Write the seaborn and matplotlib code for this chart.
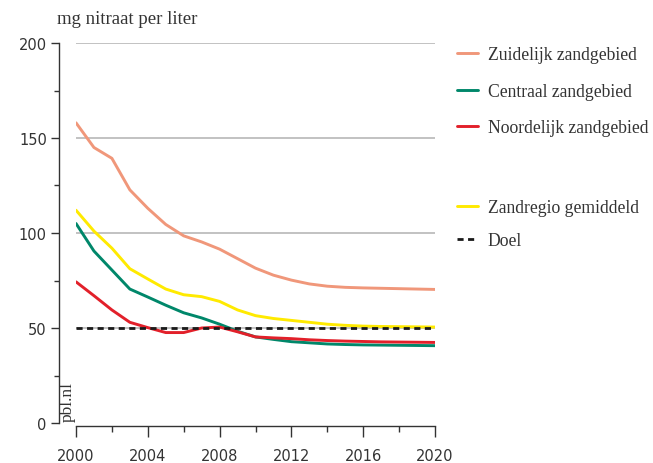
import matplotlib
matplotlib.use("Agg")
import matplotlib.pyplot as plt
import seaborn as sns
import pandas as pd
import numpy as np

years = list(range(2000, 2021))
zuidelijk = [158, 145, 139.3, 122.7, 113, 104.5, 98.5, 95.3, 91.5, 86.5, 81.5,
             77.8, 75.2, 73.2, 72.0, 71.4, 71.1, 70.9, 70.7, 70.5, 70.3]
centraal = [105, 90.5, 80.5, 70.5, 66.3, 62, 58, 55.3, 52, 48.3, 45.3,
            44.0, 42.8, 42.2, 41.6, 41.3, 41.1, 41.0, 40.9, 40.8, 40.7]
noordelijk = [74.3, 67, 59.5, 53, 50.2, 47.6, 47.6, 50, 50.5, 48, 45.3,
              44.8, 44.4, 43.8, 43.4, 43.1, 42.9, 42.7, 42.6, 42.5, 42.4]
gemiddeld = [112, 101, 92, 81.2, 75.8, 70.5, 67.5, 66.5, 64, 59.5, 56.5,
             55.0, 54.0, 53.0, 52.0, 51.4, 51.0, 50.8, 50.7, 50.6, 50.5]
doel = [50] * len(years)

labels = ["Zuidelijk zandgebied", "Centraal zandgebied", "Noordelijk zandgebied",
          "Zandregio gemiddeld", "Doel"]
colors = ["#F0977A", "#00876A", "#E2202A", "#FFEA00", "#1a1a1a"]
series = [zuidelijk, centraal, noordelijk, gemiddeld, doel]

y_ticks = [0, 50, 100, 150, 200]
x_ticks = [2000, 2004, 2008, 2012, 2016, 2020]

sns.set_theme(style="white")
plt.rcParams['font.family'] = ['DejaVu Sans']

W, H = 653, 464
fig = plt.figure(figsize=(W / 100, H / 100), dpi=100)
ax = fig.add_axes([76 / W, 1 - 424 / H, 359 / W, 380 / H])

# gridlines
for yv in y_ticks[1:]:
    ax.axhline(yv, color="#BDBDBD", lw=1.3, zorder=0)

handles = []
for vals, lab, col in zip(series, labels, colors):
    df = pd.DataFrame({"jaar": years, "waarde": vals})
    if lab == "Doel":
        sns.lineplot(data=df, x="jaar", y="waarde", ax=ax, color=col, lw=2.0,
                     linestyle=(0, (2.2, 1.6)), zorder=5)
    else:
        sns.lineplot(data=df, x="jaar", y="waarde", ax=ax, color=col, lw=2.1, zorder=3)
    handles.append(ax.lines[-1])

ax.set_xlim(2000, 2020)
ax.set_ylim(0, 200)
ax.set_xlabel("")
ax.set_ylabel("")

for s in ["top", "right"]:
    ax.spines[s].set_visible(False)
ax.spines["left"].set_position(("outward", 12))
ax.spines["bottom"].set_position(("outward", 2))
for s in ["left", "bottom"]:
    ax.spines[s].set_color("#333333")
    ax.spines[s].set_linewidth(1.0)

ax.set_yticks(y_ticks)
ax.set_yticks([25, 75, 125, 175], minor=True)
ax.set_xticks(x_ticks)
ax.set_xticks([2002, 2006, 2010, 2014, 2018], minor=True)
ax.set_xticklabels([str(x) for x in x_ticks])
ax.set_yticklabels([str(y) for y in y_ticks])

ax.tick_params(axis="y", which="major", length=6, width=1.0, color="#333333",
               direction="out", pad=3, labelsize=10.5, labelcolor="#333333", left=True)
ax.tick_params(axis="y", which="minor", length=3.6, width=1.0, color="#333333",
               direction="out", left=True)
ax.tick_params(axis="x", which="major", length=8, width=1.0, color="#333333",
               direction="out", pad=8.3, labelsize=10.5, labelcolor="#333333", bottom=True)
ax.tick_params(axis="x", which="minor", length=4.3, width=1.0, color="#333333",
               direction="out", bottom=True)

serif = ["Liberation Serif", "DejaVu Serif"]
fig.text(57 / W, 1 - 20 / H, "mg nitraat per liter", family=serif, fontsize=13.5,
         color="#333333", va="center", ha="left")
fig.text(68 / W, 1 - 422 / H, "pbl.nl", family=serif, fontsize=12.5, color="#333333",
         rotation=90, va="bottom", ha="center")

leg_kw = dict(frameon=False, handlelength=1.2, handletextpad=0.55, borderpad=0,
              borderaxespad=0, prop={"family": serif, "size": 12.7},
              labelcolor="#333333")
leg1 = fig.legend(handles[:3], labels[:3], loc="upper left", labelspacing=1.09,
                  bbox_to_anchor=(457 / W, 1 - 47.5 / H), **leg_kw)
leg2 = fig.legend(handles[3:], labels[3:], loc="upper left", labelspacing=0.93,
                  bbox_to_anchor=(457 / W, 1 - 200 / H), **leg_kw)

fig.savefig("out.png", dpi=100)
